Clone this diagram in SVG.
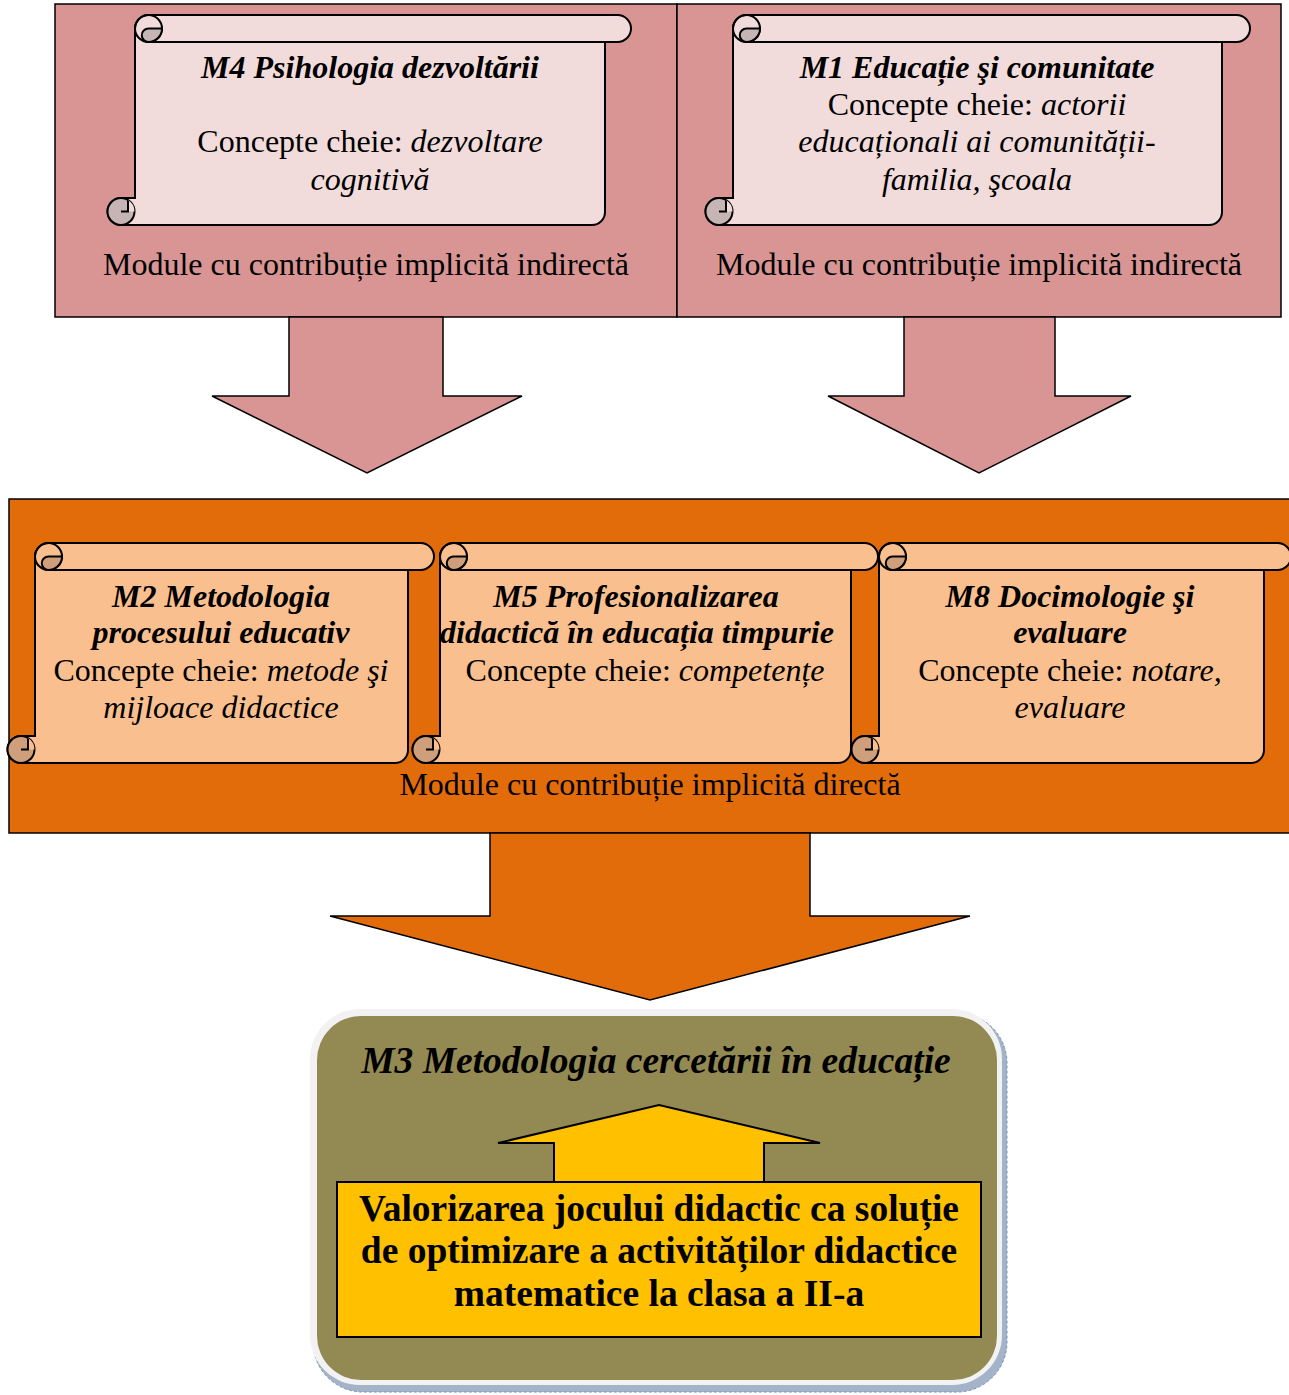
<svg xmlns="http://www.w3.org/2000/svg" width="1289" height="1395" viewBox="0 0 1289 1395">
<style>
text{font-family:"Liberation Serif","Times New Roman",serif;fill:#000;text-anchor:middle}
.t{font-size:32px}
.big{font-size:37.5px}
.bi{font-weight:bold;font-style:italic}
.b{font-weight:bold}
.i{font-style:italic}
.ln{fill:none;stroke:#000;stroke-width:2}
.pk{fill:#D99594;stroke:#000;stroke-width:1.5}
.or{fill:#E36C0A;stroke:#000;stroke-width:1.5}
.sp{fill:#F2DCDB;stroke:#000;stroke-width:2}
.so{fill:#FABF8F;stroke:#000;stroke-width:2}
.cp{fill:#C7B5B6;stroke:#000;stroke-width:2}
.co{fill:#CF9E7A;stroke:#000;stroke-width:2}
</style>
<rect width="1289" height="1395" fill="#fff"/>

<g id="top-left-box">
<rect class="pk" x="55" y="4" width="622" height="313"/>
</g>
<g id="top-right-box">
<rect class="pk" x="677" y="4" width="604" height="313"/>
</g>

<g id="connectors">
<path class="pk" d="M289,317 L443,317 L443,396 L522,396 L367,473 L212,396 L289,396 Z"/>
<path class="pk" d="M904,317 L1055,317 L1055,396 L1131,396 L979,473 L828,396 L904,396 Z"/>
</g>

<g id="M4">
<path class="sp" d="M148.5,15 L617.5,15 A13.5,13.5 0 0 1 617.5,42 L605,42 L605,212 A13,13 0 0 1 592,225 L121,225 A13.5,13.5 0 0 1 121,198 L135,198 L135,28.5 A13.5,13.5 0 0 1 148.5,15 Z"/>
<path class="ln" d="M148.5,42 L605,42"/>
<circle class="ln" cx="148.5" cy="28.5" r="13.5"/>
<path class="cp" d="M148.5,28.5 L162,28.5 A13.5,13.5 0 0 1 148.5,42 A6.75,6.75 0 0 1 148.5,28.5 Z"/>
<circle class="cp" cx="121" cy="211.5" r="13.5"/>
<path fill="#F2DCDB" d="M128,211.5 V200 A13.5,13.5 0 0 1 134.5,211.5 Z"/>
<path class="ln" d="M121,211.5 h7 v-11"/>
<text class="t bi" x="370" y="78">M4 Psihologia dezvoltării</text>
<text class="t" x="370" y="152">Concepte cheie: <tspan class="i">dezvoltare</tspan></text>
<text class="t i" x="370" y="190">cognitivă</text>
<text class="t" x="366" y="275">Module cu contribuție implicită indirectă</text>
</g>

<g id="M1">
<path class="sp" d="M746.5,15 L1236.5,15 A13.5,13.5 0 0 1 1236.5,42 L1222,42 L1222,212 A13,13 0 0 1 1209,225 L719,225 A13.5,13.5 0 0 1 719,198 L733,198 L733,28.5 A13.5,13.5 0 0 1 746.5,15 Z"/>
<path class="ln" d="M746.5,42 L1222,42"/>
<circle class="ln" cx="746.5" cy="28.5" r="13.5"/>
<path class="cp" d="M746.5,28.5 L760,28.5 A13.5,13.5 0 0 1 746.5,42 A6.75,6.75 0 0 1 746.5,28.5 Z"/>
<circle class="cp" cx="719" cy="211.5" r="13.5"/>
<path fill="#F2DCDB" d="M726,211.5 V200 A13.5,13.5 0 0 1 732.5,211.5 Z"/>
<path class="ln" d="M719,211.5 h7 v-11"/>
<text class="t bi" x="977" y="78">M1 Educație şi comunitate</text>
<text class="t" x="977" y="115">Concepte cheie: <tspan class="i">actorii</tspan></text>
<text class="t i" x="977" y="152">educaționali ai comunității-</text>
<text class="t i" x="977" y="190">familia, şcoala</text>
<text class="t" x="979" y="275">Module cu contribuție implicită indirectă</text>
</g>

<g id="middle-box">
<rect class="or" x="9" y="499" width="1290" height="334"/>
</g>

<g id="M2">
<path class="so" d="M48.5,543 L420.5,543 A13.5,13.5 0 0 1 420.5,570 L408,570 L408,750 A13,13 0 0 1 395,763 L21,763 A13.5,13.5 0 0 1 21,736 L35,736 L35,556.5 A13.5,13.5 0 0 1 48.5,543 Z"/>
<path class="ln" d="M48.5,570 L408,570"/>
<circle class="ln" cx="48.5" cy="556.5" r="13.5"/>
<path class="co" d="M48.5,556.5 L62,556.5 A13.5,13.5 0 0 1 48.5,570 A6.75,6.75 0 0 1 48.5,556.5 Z"/>
<circle class="co" cx="21" cy="749.5" r="13.5"/>
<path fill="#FABF8F" d="M28,749.5 V738 A13.5,13.5 0 0 1 34.5,749.5 Z"/>
<path class="ln" d="M21,749.5 h7 v-11"/>
<text class="t bi" x="221" y="607">M2 Metodologia</text>
<text class="t bi" x="221" y="643">procesului educativ</text>
<text class="t" x="221" y="681">Concepte cheie: <tspan class="i">metode şi</tspan></text>
<text class="t i" x="221" y="718">mijloace didactice</text>
</g>

<g id="M5">
<path class="so" d="M453.5,543 L864.5,543 A13.5,13.5 0 0 1 864.5,570 L851,570 L851,750 A13,13 0 0 1 838,763 L426,763 A13.5,13.5 0 0 1 426,736 L440,736 L440,556.5 A13.5,13.5 0 0 1 453.5,543 Z"/>
<path class="ln" d="M453.5,570 L851,570"/>
<circle class="ln" cx="453.5" cy="556.5" r="13.5"/>
<path class="co" d="M453.5,556.5 L467,556.5 A13.5,13.5 0 0 1 453.5,570 A6.75,6.75 0 0 1 453.5,556.5 Z"/>
<circle class="co" cx="426" cy="749.5" r="13.5"/>
<path fill="#FABF8F" d="M433,749.5 V738 A13.5,13.5 0 0 1 439.5,749.5 Z"/>
<path class="ln" d="M426,749.5 h7 v-11"/>
<text class="t bi" x="636" y="607">M5 Profesionalizarea</text>
<text class="t bi" x="637" y="643">didactică în  educația timpurie</text>
<text class="t" x="645" y="681">Concepte cheie: <tspan class="i">competențe</tspan></text>
</g>

<g id="M8">
<path class="so" d="M892.5,543 L1277.5,543 A13.5,13.5 0 0 1 1277.5,570 L1264,570 L1264,750 A13,13 0 0 1 1251,763 L865,763 A13.5,13.5 0 0 1 865,736 L879,736 L879,556.5 A13.5,13.5 0 0 1 892.5,543 Z"/>
<path class="ln" d="M892.5,570 L1264,570"/>
<circle class="ln" cx="892.5" cy="556.5" r="13.5"/>
<path class="co" d="M892.5,556.5 L906,556.5 A13.5,13.5 0 0 1 892.5,570 A6.75,6.75 0 0 1 892.5,556.5 Z"/>
<circle class="co" cx="865" cy="749.5" r="13.5"/>
<path fill="#FABF8F" d="M872,749.5 V738 A13.5,13.5 0 0 1 878.5,749.5 Z"/>
<path class="ln" d="M865,749.5 h7 v-11"/>
<text class="t bi" x="1070" y="607">M8 Docimologie şi</text>
<text class="t bi" x="1070" y="643">evaluare</text>
<text class="t" x="1070" y="681">Concepte cheie: <tspan class="i">notare,</tspan></text>
<text class="t i" x="1070" y="718">evaluare</text>
</g>

<g id="middle-label">
<text class="t" x="650" y="795">Module cu contribuție implicită directă</text>
</g>

<g id="connectors-2">
<path class="or" d="M490,833 L810,833 L810,916 L970,916 L650,1000 L330,916 L490,916 Z"/>
</g>

<g id="M3">
<rect x="313" y="1013" width="694" height="379" rx="50" fill="#A3B3C9" stroke="#7F93AF" stroke-width="1" stroke-dasharray="3 2"/>
<rect x="310" y="1009" width="692" height="376" rx="50" fill="#F2F2F2"/>
<rect x="317" y="1016" width="680" height="364" rx="44" fill="#938953"/>
<text class="big bi" x="656" y="1073">M3 Metodologia cercetării în educație</text>
<path fill="#FFC000" stroke="#000" stroke-width="2" d="M554,1182 L554,1143 L498,1143 L659,1105 L820,1143 L764,1143 L764,1182"/>
<rect x="337" y="1182" width="644" height="155" fill="#FFC000" stroke="#000" stroke-width="2"/>
<text class="big b" x="659" y="1221">Valorizarea jocului didactic ca soluție</text>
<text class="big b" x="659" y="1263">de optimizare a activităților didactice</text>
<text class="big b" x="659" y="1306">matematice la clasa a II-a</text>
</g>
</svg>
